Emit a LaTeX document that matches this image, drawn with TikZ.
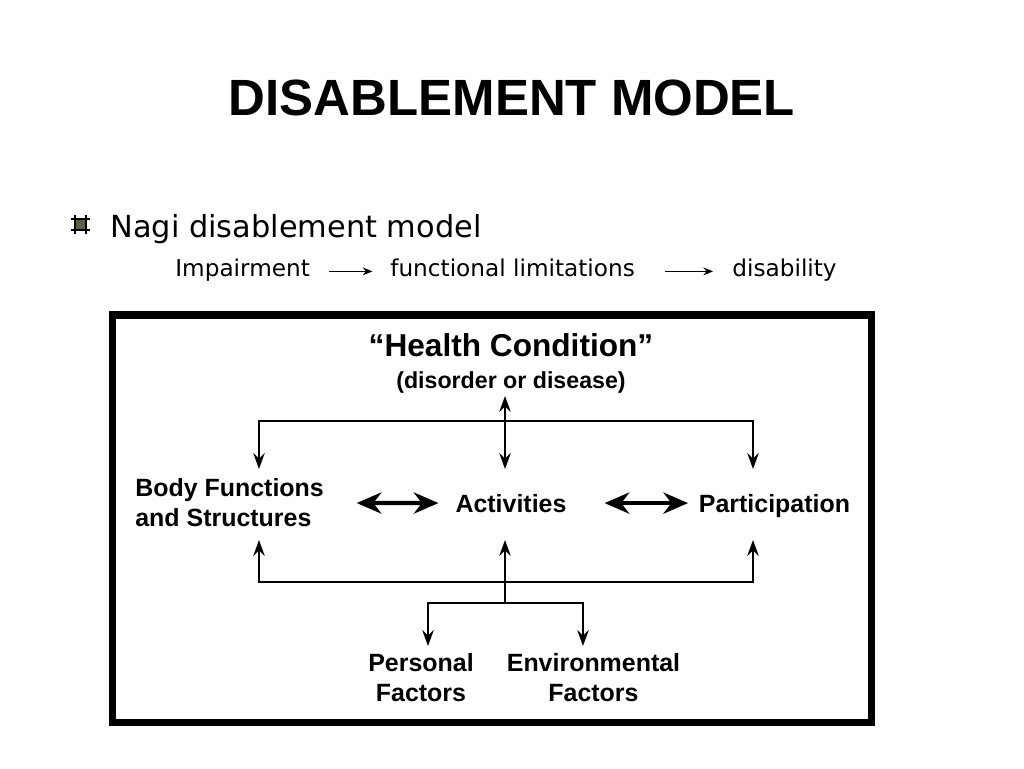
\documentclass[tikz,border=0pt]{standalone}
\usepackage{fontspec}
\setmainfont{Liberation Sans}
\newfontfamily\nagifont{DejaVu Sans}
\usetikzlibrary{arrows.meta}

\definecolor{bulletfill}{HTML}{5E5F45}

\tikzset{
  itemtext/.style={font=\bfseries\fontsize{14.2}{17}\selectfont, align=center, inner sep=0pt},
  nagitext/.style={font=\nagifont\fontsize{13.2}{16}\selectfont, inner sep=0pt, anchor=base west},
  nagiarrow/.style={line width=0.8pt, -{Stealth[length=5.5pt,width=4.5pt]}},
  link/.style={line width=1.4pt},
  bigarrow/.style={line width=2.4pt, {Stealth[length=14pt,width=12pt,inset=4.5pt]}-{Stealth[length=14pt,width=12pt,inset=4.5pt]}}
}

\begin{document}
\begin{tikzpicture}[x=0.02cm,y=-0.02cm, >={Stealth[length=9pt,width=6.5pt,inset=3pt]}]
\useasboundingbox (0,0) rectangle (1024,768);

% title
\node[anchor=base, inner sep=0pt, font=\bfseries\fontsize{29}{34}\selectfont] (title) at (512,115) {DISABLEMENT MODEL};

% bullet
\fill[bulletfill] (74,218) rectangle (87,231);
\draw[line width=1.4pt] (71,219) -- (90,219) (71,230) -- (90,230) (75,215) -- (75,234) (86,215) -- (86,234);

\node[anchor=base west, inner sep=0pt, font=\nagifont\fontsize{17.3}{21}\selectfont] (nagi) at (110,237) {Nagi disablement model};
\node[nagitext] (imp) at (175,276) {Impairment};
\node[nagitext] (func) at (390,276) {functional limitations};
\node[nagitext] (disab) at (732,276) {disability};
\draw[nagiarrow, shorten <=10.5pt, shorten >=10pt] (imp.mid east) -- (func.mid west);
\draw[nagiarrow, shorten <=17pt, shorten >=10.8pt] (func.mid east) -- (disab.mid west);

% frame
\draw[line width=4pt] (112.5,315) rectangle (871.5,722.5);

    \node[itemtext, font=\bfseries\fontsize{18}{21}\selectfont, anchor=base] (hc) at (511,356) {“Health Condition”};
    \node[itemtext, font=\bfseries\fontsize{13.2}{16}\selectfont, anchor=base] (dis) at (511,388) {(disorder or disease)};
    \node[itemtext, anchor=west, align=left] (body) at (135,503) {Body Functions\\and Structures};
    \node[itemtext, anchor=base] (act) at (511,512) {Activities};
    \node[itemtext, anchor=base] (part) at (774.5,512) {Participation};
    \node[itemtext] (pers) at (421,678) {Personal\\Factors};
    \node[itemtext] (env) at (593.5,678) {Environmental\\Factors};

\coordinate (hcout) at (505,396);
\coordinate (topbar) at (505,421);
\coordinate (bodyin) at (259,469);
\coordinate (actin) at (505,469);
\coordinate (partin) at (753,469);
\coordinate (bodyout) at (259,540);
\coordinate (actout) at (505,540);
\coordinate (partout) at (753,540);
\coordinate (botbar) at (505,582);
\coordinate (fork) at (505,603);
\coordinate (persin) at (428,646);
\coordinate (envin) at (583,646);

\draw[link, <->] (bodyin) |- (topbar) -| (partin);
\draw[link, <->] (hcout) -- (actin);

\draw[bigarrow, shorten <=18.5pt, shorten >=9.5pt] (body.east) -- (act.west);
\draw[bigarrow, shorten <=21.5pt, shorten >=6pt] (act.east) -- (act.east -| part.west);

\draw[link, <->] (bodyout) |- (botbar) -| (partout);
\draw[link, <-] (actout) -- (fork);
\draw[link, <->] (persin) |- (fork) -| (envin);
\end{tikzpicture}
\end{document}
